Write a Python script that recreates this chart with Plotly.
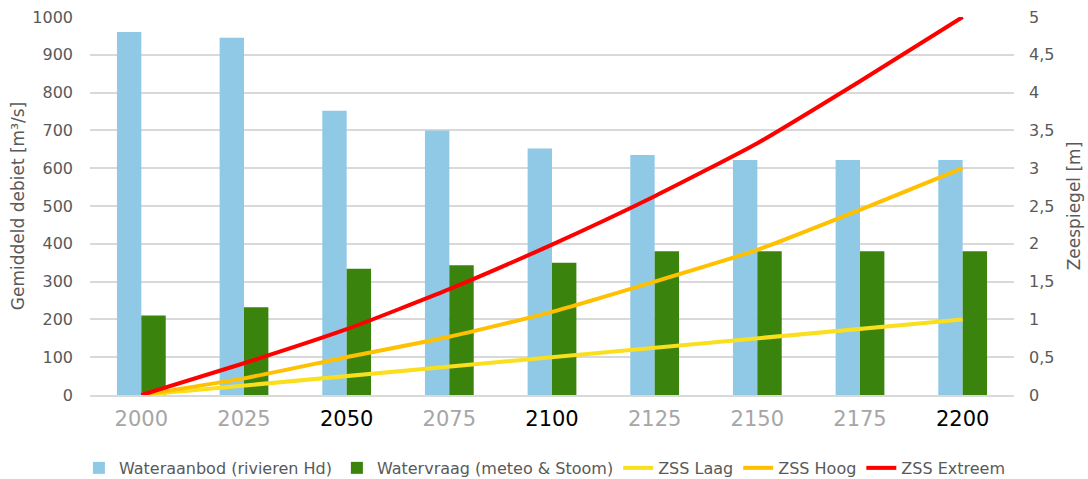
import plotly.graph_objects as go

years = ["2000", "2025", "2050", "2075", "2100", "2125", "2150", "2175", "2200"]
label_dark = [False, False, True, False, True, False, False, False, True]
wateraanbod = [960, 945, 752, 700, 652, 635, 622, 622, 622]
watervraag = [210, 232, 334, 343, 350, 380, 380, 380, 380]
zss_laag = [0, 0.125, 0.25, 0.375, 0.5, 0.625, 0.75, 0.875, 1.0]
zss_hoog = [0, 0.22, 0.5, 0.77, 1.1, 1.5, 1.92, 2.45, 3.0]
zss_extreem = [0, 0.42, 0.87, 1.4, 1.99, 2.63, 3.33, 4.15, 5.0]
y1_ticks = list(range(0, 1001, 100))
y2_ticks = [0, 0.5, 1, 1.5, 2, 2.5, 3, 3.5, 4, 4.5, 5]

ticktext = [f'<span style="color:#000000">{y}</span>' if d else y for y, d in zip(years, label_dark)]

fig = go.Figure()
fig.add_trace(go.Bar(x=years, y=wateraanbod, name="Wateraanbod (rivieren Hd)",
                     marker=dict(color="#8FC9E6", line=dict(width=0))))
fig.add_trace(go.Bar(x=years, y=watervraag, name="Watervraag (meteo &amp; Stoom)",
                     marker=dict(color="#3A840E", line=dict(width=0))))
fig.add_trace(go.Scatter(x=years, y=zss_laag, name="ZSS Laag", yaxis="y2", mode="lines",
                         line=dict(color="#FADF1E", width=4)))
fig.add_trace(go.Scatter(x=years, y=zss_hoog, name="ZSS Hoog", yaxis="y2", mode="lines",
                         line=dict(color="#FFC000", width=4, shape="spline", smoothing=0.5)))
fig.add_trace(go.Scatter(x=years, y=zss_extreem, name="ZSS Extreem", yaxis="y2", mode="lines",
                         line=dict(color="#FF0000", width=4, shape="spline", smoothing=0.5)))

fig.update_layout(
    width=1088, height=479,
    margin=dict(l=90, r=74, t=17, b=84, autoexpand=False),
    paper_bgcolor="white", plot_bgcolor="white",
    barmode="group", bargap=0.525, bargroupgap=0,
    separators=", ",
    font=dict(family="DejaVu Sans, Verdana, sans-serif", color="#595959"),
    showlegend=True,
    legend=dict(orientation="h", x=-0.012, xanchor="left", y=-0.193, yanchor="middle",
                font=dict(family="DejaVu Sans, Verdana, sans-serif", size=16, color="#595959"),
                traceorder="normal", itemwidth=30, tracegroupgap=0),
    xaxis=dict(type="category", tickmode="array", tickvals=years, ticktext=ticktext,
               tickfont=dict(size=21, color="#A6A6A6"), showgrid=False,
               showline=True, linecolor="#D9D9D9", linewidth=1.5, ticks="",
               ticklabelstandoff=4, automargin=False),
    yaxis=dict(range=[0, 1000], tickvals=y1_ticks, showgrid=True, gridcolor="#D9D9D9",
               gridwidth=1.5, zeroline=False, tickfont=dict(size=16, color="#595959"),
               ticklabelstandoff=16, automargin=False,
               title=dict(text="Gemiddeld debiet [m³/s]", font=dict(size=17, color="#595959"),
                          standoff=3)),
    yaxis2=dict(range=[0, 5], tickvals=y2_ticks, overlaying="y", side="right", showgrid=False,
                zeroline=False, tickfont=dict(size=16, color="#595959"), ticklabelstandoff=14,
                automargin=False,
                title=dict(text="Zeespiegel [m]", font=dict(size=17, color="#595959"),
                           standoff=14)),
)

fig.write_html("out.html", config={"displayModeBar": False},
               post_script="document.body.style.margin='0';document.body.style.overflow='hidden';")
